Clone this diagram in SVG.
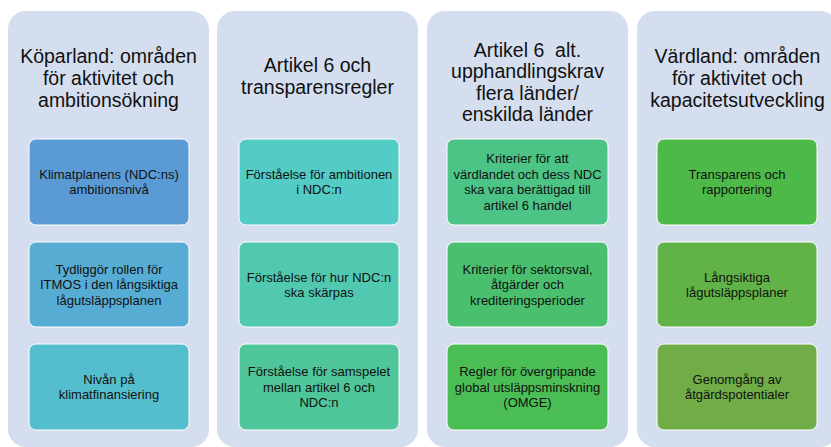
<svg xmlns="http://www.w3.org/2000/svg" width="831" height="447" viewBox="0 0 831 447">
<style>
.col{fill:#D4DEEF;}
.box{stroke:#FFFFFF;stroke-width:1;}
.title{font-family:"Liberation Sans",Arial,sans-serif;font-size:19.5px;fill:#111111;text-anchor:middle;}
.lbl{font-family:"Liberation Sans",Arial,sans-serif;font-size:13px;fill:#111111;text-anchor:middle;}
</style>
<rect width="831" height="447" fill="#FFFFFF"/>
<g id="col1">
<rect class="col" x="8" y="11" width="201" height="436" rx="18"/>
<text class="title" x="108.5" y="63">Köparland: områden</text>
<text class="title" x="108.5" y="85">för aktivitet och</text>
<text class="title" x="108.5" y="107">ambitionsökning</text>
</g>
<g id="col2">
<rect class="col" x="217" y="11" width="201" height="436" rx="18"/>
<text class="title" x="317.5" y="72">Artikel 6 och</text>
<text class="title" x="317.5" y="93.5">transparensregler</text>
</g>
<g id="col3">
<rect class="col" x="427" y="11" width="201" height="436" rx="18"/>
<text class="title" x="527.5" y="57" xml:space="preserve">Artikel 6  alt.</text>
<text class="title" x="527.5" y="78">upphandlingskrav</text>
<text class="title" x="527.5" y="99.5">flera länder/</text>
<text class="title" x="527.5" y="120.5">enskilda länder</text>
</g>
<g id="col4">
<rect class="col" x="637" y="11" width="201" height="436" rx="18"/>
<text class="title" x="737.5" y="63">Värdland: områden</text>
<text class="title" x="737.5" y="85">för aktivitet och</text>
<text class="title" x="737.5" y="107">kapacitetsutveckling</text>
</g>
<g id="n1-1">
<rect class="box" x="29" y="139" width="160" height="86" rx="7" fill="#5B9BD5"/>
<text class="lbl" x="109" y="178.5">Klimatplanens (NDC:ns)</text>
<text class="lbl" x="109" y="194">ambitionsnivå</text>
</g>
<g id="n1-2">
<rect class="box" x="29" y="242" width="160" height="85" rx="7" fill="#57ACD3"/>
<text class="lbl" x="109" y="273.5">Tydliggör rollen för</text>
<text class="lbl" x="109" y="289">ITMOS i den långsiktiga</text>
<text class="lbl" x="109" y="304.5">lågutsläppsplanen</text>
</g>
<g id="n1-3">
<rect class="box" x="29" y="344" width="160" height="86" rx="7" fill="#55BECE"/>
<text class="lbl" x="109" y="383.5">Nivån på</text>
<text class="lbl" x="109" y="399">klimatfinansiering</text>
</g>
<g id="n2-1">
<rect class="box" x="239" y="139" width="160" height="86" rx="7" fill="#52CCC4"/>
<text class="lbl" x="319" y="178.5">Förståelse för ambitionen</text>
<text class="lbl" x="319" y="194">i NDC:n</text>
</g>
<g id="n2-2">
<rect class="box" x="239" y="242" width="160" height="85" rx="7" fill="#51C9B0"/>
<text class="lbl" x="319" y="281.5">Förståelse för hur NDC:n</text>
<text class="lbl" x="319" y="297">ska skärpas</text>
</g>
<g id="n2-3">
<rect class="box" x="239" y="344" width="160" height="86" rx="7" fill="#4FC699"/>
<text class="lbl" x="319" y="376">Förståelse för samspelet</text>
<text class="lbl" x="319" y="391.5">mellan artikel 6 och</text>
<text class="lbl" x="319" y="407">NDC:n</text>
</g>
<g id="n3-1">
<rect class="box" x="447" y="139" width="161" height="86" rx="7" fill="#4CC486"/>
<text class="lbl" x="527.5" y="163">Kriterier för att</text>
<text class="lbl" x="527.5" y="178.5">värdlandet och dess NDC</text>
<text class="lbl" x="527.5" y="194">ska vara berättigad till</text>
<text class="lbl" x="527.5" y="209.5">artikel 6 handel</text>
</g>
<g id="n3-2">
<rect class="box" x="447" y="242" width="161" height="85" rx="7" fill="#4AC06E"/>
<text class="lbl" x="527.5" y="273.5">Kriterier för sektorsval,</text>
<text class="lbl" x="527.5" y="289">åtgärder och</text>
<text class="lbl" x="527.5" y="304.5">krediteringsperioder</text>
</g>
<g id="n3-3">
<rect class="box" x="447" y="344" width="161" height="86" rx="7" fill="#4ABD55"/>
<text class="lbl" x="527.5" y="376">Regler för övergripande</text>
<text class="lbl" x="527.5" y="391.5">global utsläppsminskning</text>
<text class="lbl" x="527.5" y="407">(OMGE)</text>
</g>
<g id="n4-1">
<rect class="box" x="657" y="139" width="160" height="86" rx="7" fill="#4DB948"/>
<text class="lbl" x="737" y="178.5">Transparens och</text>
<text class="lbl" x="737" y="194">rapportering</text>
</g>
<g id="n4-2">
<rect class="box" x="657" y="242" width="160" height="85" rx="7" fill="#61B347"/>
<text class="lbl" x="737" y="281.5">Långsiktiga</text>
<text class="lbl" x="737" y="297">lågutsläppsplaner</text>
</g>
<g id="n4-3">
<rect class="box" x="657" y="344" width="160" height="86" rx="7" fill="#70AD47"/>
<text class="lbl" x="737" y="383.5">Genomgång av</text>
<text class="lbl" x="737" y="399">åtgärdspotentialer</text>
</g>
<g id="connectors"/>
</svg>
